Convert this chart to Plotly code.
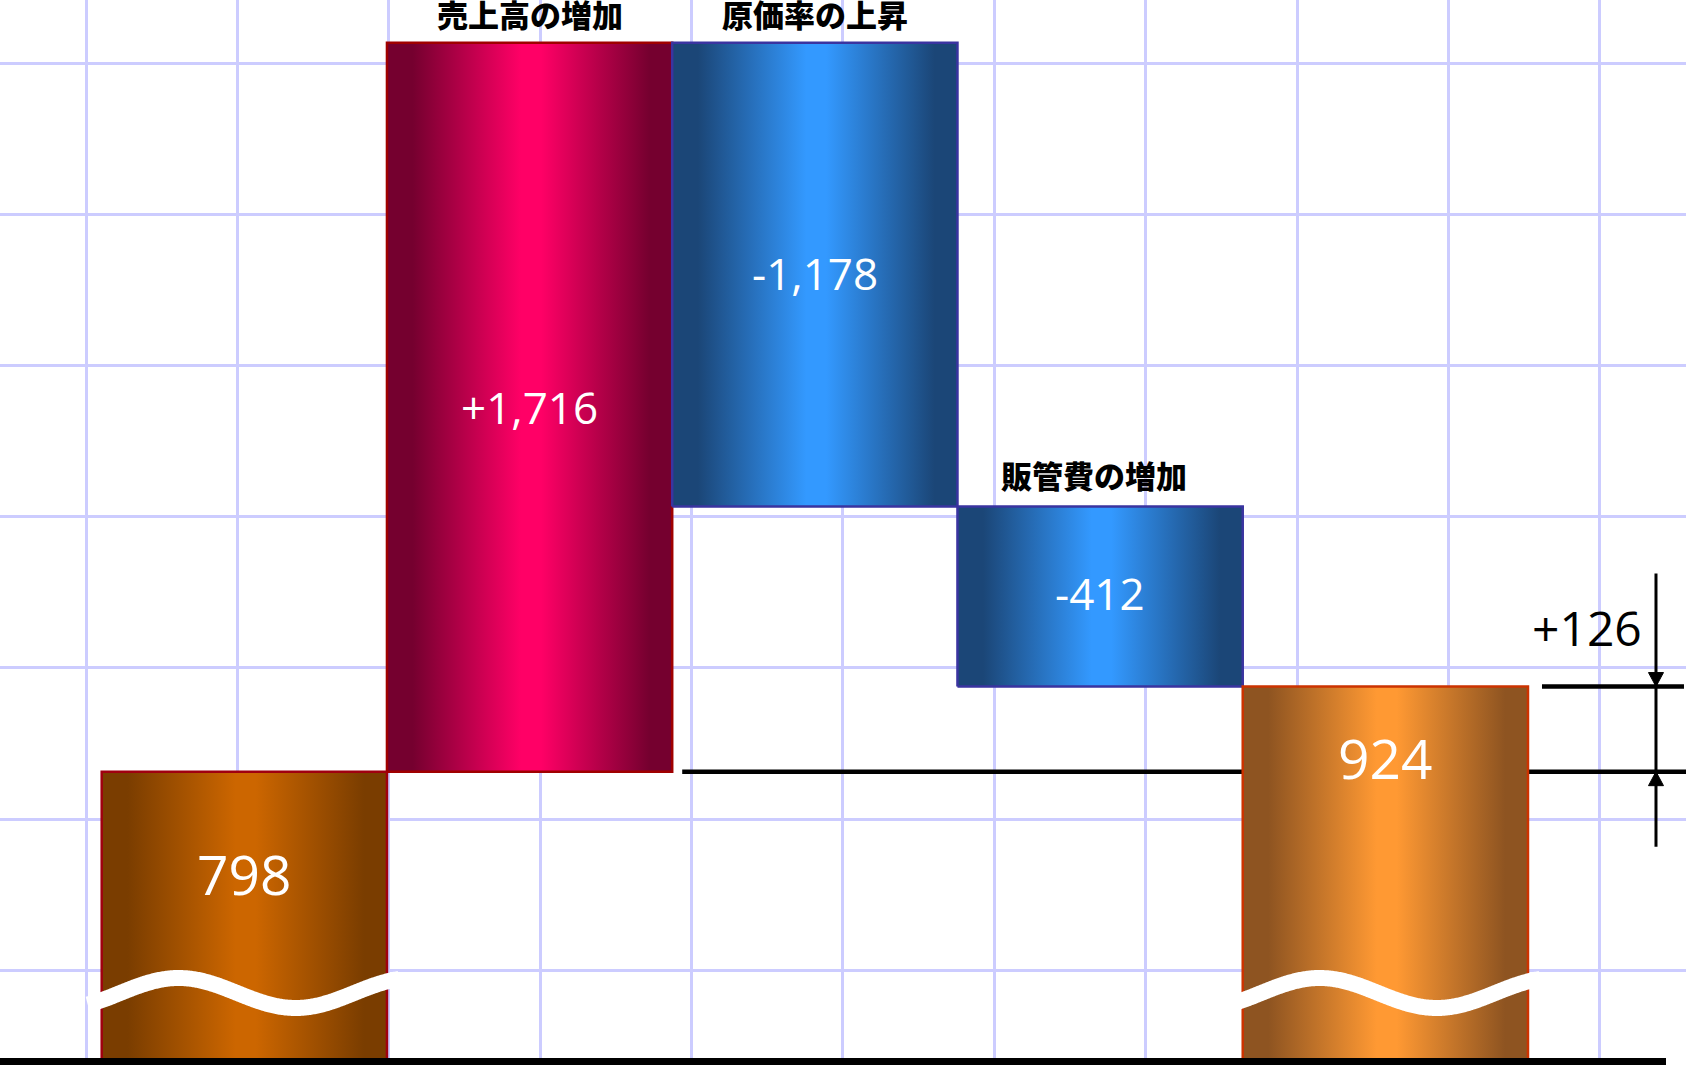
import numpy as np
import plotly.graph_objects as go

# ---------------- data ----------------
categories = ["", "売上高の増加", "原価率の上昇", "販管費の増加", ""]
values = [798, 1716, -1178, -412, 924]
kinds = ["total", "delta", "delta", "delta", "total"]
# drawn extents of each bar in the schematic (not-to-scale, broken) chart, in grid cells
bar_base = [-0.60, 1.313, 3.066, 1.876, -0.60]
bar_top = [1.313, 6.134, 6.134, 3.066, 1.876]

value_labels = [f"{v:,}" if k == "total" else f"{v:+,}" for v, k in zip(values, kinds)]
change_label = f"{values[-1] - values[0]:+,}"

# ---------------- styles ----------------
edge_colors = ["#7a3d00", "#75002f", "#1b4677", "#1b4677", "#8e5421"]
center_colors = ["#cc6600", "#ff0066", "#3399ff", "#3399ff", "#ff9933"]
outline_colors = ["#a0000f", "#a00000", "#3a34a0", "#3a34a0", "#cc3300"]
label_sizes = [55, 44, 44, 44, 55]
label_yshift = [2, 0, 2, 4, 3]
total_label_drop_px = {0: 104, 4: 73.5}
cat_xshift = {1: 0, 2: 0, 3: -6}
cat_yshift = {1: 29, 2: 29, 3: 32}
NUM_FONT = "Open Sans"

W, H = 1686, 1065
XR = [-0.8565, 5.0539]
YR = [-0.627, 6.4167]
PXX = W / (XR[1] - XR[0])
PXY = H / (YR[1] - YR[0])

fig = go.Figure()

# reference line at starting total level (behind the final bar)
lvl0 = bar_top[0]
lvl1 = bar_top[-1]
fig.add_trace(go.Scatter(x=[1.5 + 10 / PXX, XR[1]], y=[lvl0, lvl0], mode="lines",
                         line=dict(color="black", width=4.5), hoverinfo="skip"))
fig.add_trace(go.Scatter(x=[4.5 + 14 / PXX, 4.5 + 156 / PXX], y=[lvl1, lvl1], mode="lines",
                         line=dict(color="black", width=4.5), hoverinfo="skip"))

# bars with horizontal cylinder gradient
for i in range(len(values)):
    b, t = bar_base[i], bar_top[i]
    ec, cc = edge_colors[i], center_colors[i]
    fig.add_trace(go.Scatter(
        x=[i - 0.5, i + 0.5, i + 0.5, i - 0.5, i - 0.5],
        y=[b, b, t, t, b],
        mode="lines", fill="toself",
        fillgradient=dict(type="horizontal",
                          colorscale=[[0, ec], [0.09, ec], [0.47, cc], [0.54, cc], [0.92, ec], [1, ec]]),
        line=dict(color=outline_colors[i], width=2.5),
        hoverinfo="skip"))

# break (wave) marks on the total bars
for i, k in enumerate(kinds):
    if k != "total":
        continue
    left = i - 0.5
    xs = np.linspace(left - 14 / PXX, i + 0.5 + 12 / PXX, 300)
    px = (xs - left) * PXX
    ypx = 993 - 15 * np.cos(np.pi * (px - 77) / 117)
    ys = YR[1] - ypx / PXY
    fig.add_trace(go.Scatter(x=xs, y=ys, mode="lines",
                             line=dict(color="white", width=16, simplify=False),
                             hoverinfo="skip"))

# baseline
yb = YR[0] + 3.5 / PXY
fig.add_trace(go.Scatter(x=[XR[0], XR[0] + 1666 / PXX], y=[yb, yb], mode="lines",
                         line=dict(color="black", width=7), hoverinfo="skip"))

# dimension arrow
xa = 4.5 + 128 / PXX
fig.add_trace(go.Scatter(x=[xa, xa], y=[lvl1 + 113 / PXY, lvl0 - 75 / PXY], mode="lines",
                         line=dict(color="black", width=3), hoverinfo="skip"))
hw, hh = 7.5 / PXX, 14 / PXY
fig.add_trace(go.Scatter(x=[xa, xa - hw, xa + hw, xa], y=[lvl1, lvl1 + hh, lvl1 + hh, lvl1],
                         mode="lines", fill="toself", fillcolor="black",
                         line=dict(color="black", width=1), hoverinfo="skip"))
fig.add_trace(go.Scatter(x=[xa, xa - hw, xa + hw, xa], y=[lvl0, lvl0 - hh, lvl0 - hh, lvl0],
                         mode="lines", fill="toself", fillcolor="black",
                         line=dict(color="black", width=1), hoverinfo="skip"))

annotations = []
for i, lab in enumerate(value_labels):
    if kinds[i] == "total":
        yl = bar_top[i] - total_label_drop_px[i] / PXY
    else:
        yl = (bar_base[i] + bar_top[i]) / 2
    annotations.append(dict(x=i, y=yl, text=lab, showarrow=False, xanchor="center", yanchor="middle",
                            yshift=label_yshift[i],
                            font=dict(family=NUM_FONT, size=label_sizes[i], color="white", weight=400)))
for i, c in enumerate(categories):
    if not c:
        continue
    annotations.append(dict(x=i, y=bar_top[i], text=c, showarrow=False,
                            xanchor="center", yanchor="middle", yshift=cat_yshift[i], xshift=cat_xshift[i],
                            font=dict(family="Noto Sans CJK JP", size=31, color="black", weight=900)))
annotations.append(dict(x=xa, y=lvl1, text=change_label, showarrow=False, xanchor="right",
                        yanchor="middle", xshift=-12, yshift=59.5,
                        font=dict(family=NUM_FONT, size=48, color="black", weight=400)))

fig.update_layout(
    width=W, height=H, margin=dict(l=0, r=0, t=0, b=0),
    paper_bgcolor="white", plot_bgcolor="white", showlegend=False,
    annotations=annotations,
    xaxis=dict(range=XR, showgrid=True, gridcolor="#ccccff", gridwidth=3,
               tick0=-0.5543, dtick=0.53057, showticklabels=False, ticks="",
               zeroline=False, showline=False, fixedrange=True),
    yaxis=dict(range=YR, showgrid=True, gridcolor="#ccccff", gridwidth=3,
               tick0=0, dtick=1, showticklabels=False, ticks="",
               zeroline=False, showline=False, fixedrange=True),
)

fig.write_html("out.html", config={"displayModeBar": False},
               post_script="document.body.style.margin='0';document.body.style.overflow='hidden';")
